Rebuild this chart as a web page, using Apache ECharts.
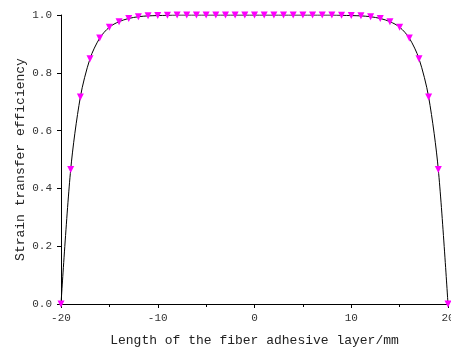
<!DOCTYPE html>
<html>
<head>
<meta charset="utf-8">
<script src="https://cdn.jsdelivr.net/npm/echarts@6/dist/echarts.min.js"></script>
<style>
  html, body { margin: 0; padding: 0; background: #fff; }
  #chart { width: 451px; height: 348px; }
</style>
</head>
<body>
<div id="chart"></div>
<script>
// fiber adhesive layer position (mm)
const positions = [-20, -19, -18, -17, -16, -15, -14, -13, -12, -11, -10, -9, -8, -7, -6, -5, -4, -3, -2, -1,
  0, 1, 2, 3, 4, 5, 6, 7, 8, 9, 10, 11, 12, 13, 14, 15, 16, 17, 18, 19, 20]
// strain transfer efficiency
const efficiency = [0, 0.465, 0.716, 0.849, 0.92, 0.958, 0.977, 0.988, 0.994, 0.997, 0.998, 0.999, 1, 1, 1, 1, 1, 1, 1, 1,
  1, 1, 1, 1, 1, 1, 1, 1, 1, 0.999, 0.998, 0.997, 0.994, 0.988, 0.977, 0.958, 0.92, 0.849, 0.716, 0.465, 0]

const font = '"Liberation Mono", "DejaVu Sans Mono", monospace'

const chart = echarts.init(document.getElementById('chart'))
chart.setOption({
  animation: false,
  grid: { left: 61, right: 3, top: 15, bottom: 44, outerBoundsMode: 'none', containLabel: false },
  xAxis: {
    type: 'value',
    min: -20, max: 20, interval: 10,
    name: 'Length of the fiber adhesive layer/mm',
    nameLocation: 'middle', nameGap: 30, nameMoveOverlap: false,
    nameTextStyle: { fontFamily: font, fontSize: 13, color: '#222' },
    axisLine: { onZero: false, lineStyle: { color: '#000', width: 1 } },
    axisTick: { length: 4, lineStyle: { color: '#000' } },
    minorTick: { show: true, splitNumber: 2, length: 3, lineStyle: { color: '#000' } },
    axisLabel: { fontFamily: font, fontSize: 11, color: '#333', margin: 9, showMaxLabel: true },
    splitLine: { show: false }
  },
  yAxis: {
    type: 'value',
    min: 0, max: 1, interval: 0.2,
    name: 'Strain transfer efficiency',
    nameLocation: 'middle', nameGap: 34, nameMoveOverlap: false,
    nameTextStyle: { fontFamily: font, fontSize: 13, color: '#222' },
    axisLine: { show: true, onZero: false, lineStyle: { color: '#000', width: 1 } },
    axisTick: { show: true, length: 4, lineStyle: { color: '#000' } },
    axisLabel: { fontFamily: font, fontSize: 11, color: '#333', margin: 9,
      formatter: v => v.toFixed(1) },
    splitLine: { show: false }
  },
  series: [{
    type: 'line',
    data: positions.map((x, i) => [x, efficiency[i]]),
    smooth: 0.3,
    clip: true,
    lineStyle: { color: '#000', width: 1 },
    symbol: 'triangle',
    symbolRotate: 180,
    symbolSize: 7,
    itemStyle: { color: '#ff00ff' }
  }]
})
</script>
</body>
</html>
